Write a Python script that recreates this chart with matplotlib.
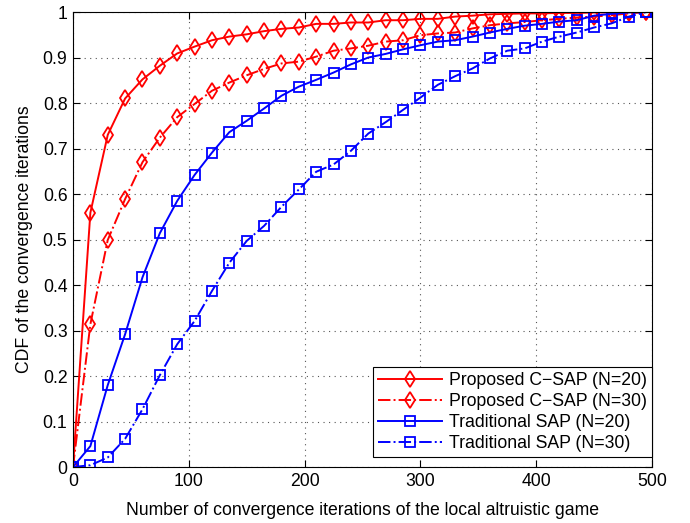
import numpy as np
import matplotlib.pyplot as plt

plt.rcParams['font.family'] = ['Liberation Sans', 'DejaVu Sans']
plt.rcParams['font.size'] = 12.7

# iteration counts where the CDF was sampled
iters = list(range(0, 500, 15))

csap_n20 = [0, 0.559, 0.730, 0.810, 0.852, 0.882, 0.909, 0.924, 0.938, 0.946,
            0.951, 0.958, 0.963, 0.966, 0.974, 0.974, 0.977, 0.977, 0.982, 0.982,
            0.985, 0.985, 0.990, 0.992, 0.995, 0.996, 0.997, 0.997, 0.998, 0.998,
            0.999, 0.999, 1.0, 1.0]
csap_n30 = [0, 0.314, 0.499, 0.589, 0.670, 0.724, 0.769, 0.798, 0.827, 0.845,
            0.861, 0.875, 0.887, 0.891, 0.902, 0.915, 0.920, 0.926, 0.935, 0.938,
            0.949, 0.953, 0.955, 0.964, 0.971, 0.975, 0.978, 0.982, 0.985, 0.988,
            0.990, 0.993, 0.997, 1.0]
sap_n20 = [0, 0.046, 0.180, 0.292, 0.417, 0.514, 0.585, 0.642, 0.691, 0.736,
           0.761, 0.788, 0.816, 0.836, 0.851, 0.867, 0.885, 0.900, 0.908, 0.918,
           0.927, 0.935, 0.938, 0.946, 0.955, 0.963, 0.970, 0.974, 0.979, 0.982,
           0.992, 0.996, 0.999, 1.0]
sap_n30 = [0, 0.004, 0.021, 0.062, 0.127, 0.202, 0.270, 0.321, 0.387, 0.449,
           0.497, 0.530, 0.572, 0.610, 0.649, 0.665, 0.695, 0.733, 0.758, 0.785,
           0.812, 0.840, 0.859, 0.876, 0.898, 0.915, 0.920, 0.935, 0.946, 0.955,
           0.966, 0.975, 0.990, 1.0]

labels = ['Proposed C\u2212SAP (N=20)', 'Proposed C\u2212SAP (N=30)',
          'Traditional SAP (N=20)', 'Traditional SAP (N=30)']

fig = plt.figure(figsize=(6.9, 5.23), dpi=100)
ax = fig.add_axes([0.1058, 0.107, 0.8392, 0.870])

# red diamonds for C-SAP, blue squares for the traditional SAP
lw = 1.4
ax.plot(iters, csap_n20, '-', color='red', marker='d', ms=8, mfc='none', mew=1.3, lw=lw, label=labels[0])
ax.plot(iters, csap_n30, '-.', color='red', marker='d', ms=8, mfc='none', mew=1.3, lw=lw, label=labels[1])
ax.plot(iters, sap_n20, '-', color='blue', marker='s', ms=6.5, mfc='none', mew=1.3, lw=lw, label=labels[2])
ax.plot(iters, sap_n30, '-.', color='blue', marker='s', ms=6.5, mfc='none', mew=1.3, lw=lw, label=labels[3])

ax.set_xlim(0, 500)
ax.set_ylim(0, 1)
ax.set_xticks(np.arange(0, 501, 100))
ax.set_yticks(np.arange(0, 1.01, 0.1))
ax.set_yticklabels(['0', '0.1', '0.2', '0.3', '0.4', '0.5', '0.6', '0.7', '0.8', '0.9', '1'])
ax.tick_params(direction='in', top=True, right=True, length=5, width=0.8, labelsize=12.7, pad=4)
ax.grid(True, linestyle=(0, (1, 4)), color='#555555', linewidth=0.8)
for s in ax.spines.values():
    s.set_linewidth(0.8)

ax.set_xlabel('Number of convergence iterations of the local altruistic game', fontsize=12.7, labelpad=9)
ax.set_ylabel('CDF of the convergence iterations', fontsize=12.7, labelpad=7)

leg = ax.legend(loc='lower right', bbox_to_anchor=(1.0, 0.022), borderaxespad=0, numpoints=1,
                handlelength=3.6, fancybox=False, edgecolor='black', framealpha=1, borderpad=0.3,
                labelspacing=0.22, handletextpad=0.4, fontsize=12.7)
leg.get_frame().set_linewidth(0.8)

fig.savefig('out.png', dpi=100)
